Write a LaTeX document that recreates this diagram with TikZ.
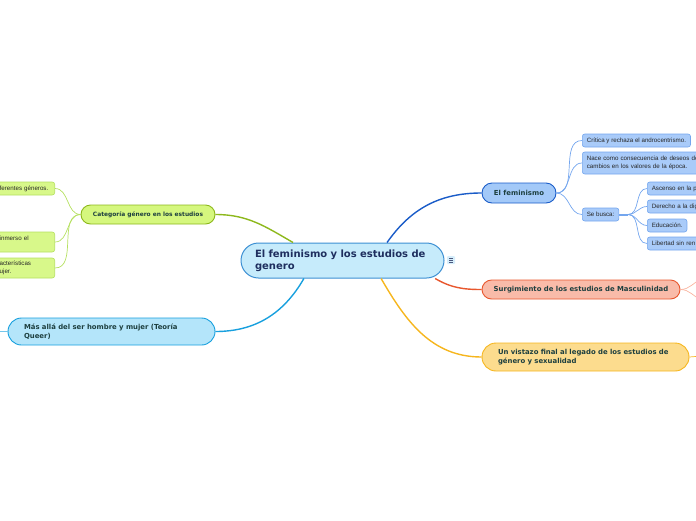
\documentclass[tikz,border=0pt]{standalone}
\usepackage{fontspec}
\setmainfont{Liberation Sans}
\newfontfamily\verd{DejaVu Sans}
\definecolor{rootfill}{HTML}{C6EBFB}
\definecolor{rootline}{HTML}{3C8FD3}
\definecolor{roottext}{HTML}{1E2E5E}
\definecolor{topictext}{HTML}{1D3F3F}
\definecolor{femfill}{HTML}{A3C9F8}
\definecolor{femline}{HTML}{1A5CC8}
\definecolor{leaffill}{HTML}{A9CBF9}
\definecolor{leafline}{HTML}{74A6EE}
\definecolor{catfill}{HTML}{D5F77E}
\definecolor{catline}{HTML}{8DB81C}
\definecolor{cleaffill}{HTML}{D8F88A}
\definecolor{cleafline}{HTML}{B5E060}
\definecolor{queerfill}{HTML}{B4E5FA}
\definecolor{queerline}{HTML}{18A0DE}
\definecolor{mascfill}{HTML}{F9BBA9}
\definecolor{mascline}{HTML}{E8572E}
\definecolor{masclight}{HTML}{F9B4A0}
\definecolor{vistfill}{HTML}{FCDC8E}
\definecolor{vistline}{HTML}{F6B61E}
\definecolor{iconfill}{HTML}{D6EEFB}

\begin{document}
\begin{tikzpicture}[x=1pt, y=-1pt,
  root/.style={draw=rootline, fill=rootfill, line width=1pt, rounded corners=17.5pt, minimum height=35pt, text width=175pt, inner xsep=14pt, align=left, text=roottext, font=\verd\bfseries\fontsize{10}{12}\selectfont},
  topic/.style={line width=0.9pt, inner sep=0pt, text=topictext, font=\verd\bfseries\fontsize{6.9}{9.5}\selectfont},
  leaf/.style={draw=leafline, fill=leaffill, line width=0.6pt, rounded corners=2.5pt, inner xsep=4.5pt, inner ysep=0pt, minimum height=13pt, anchor=west, align=left, text=black!85, font=\fontsize{6.2}{8}\selectfont},
  cleaf/.style={leaf, draw=cleafline, fill=cleaffill, anchor=east, text width=51pt, inner xsep=4pt},
  branch/.style={line width=1.4pt},
  twig/.style={line width=0.7pt}
]
\useasboundingbox (0,0) rectangle (696,520);
\clip (0,0) rectangle (696,520);

\node[root] (root) at (342.5,260.5) {El feminismo y los estudios de\\genero};
\node[fill=iconfill, rounded corners=1pt, minimum size=8pt, inner sep=0pt] (notes) at (451,260) {};
\draw[roottext!80, line width=0.6pt] ([xshift=-2pt]notes.center) -- ++(4,0)
  ([xshift=-2pt,yshift=2pt]notes.center) -- ++(4,0) ([xshift=-2pt,yshift=-2pt]notes.center) -- ++(4,0);

\node[topic, draw=femline, fill=femfill, rounded corners=10pt, minimum width=74pt, minimum height=20pt] (fem) at (519,193) {El feminismo};
\node[leaf] (crit) at (582,140.5) {Crítica y rechaza el androcentrismo.};
\node[leaf, minimum height=22pt, text width=116pt] (nace) at (582,163) {Nace como consecuencia de deseos de\\cambios en los valores de la época.};
\node[leaf] (busca) at (582,214.5) {Se busca:};
\node[leaf, text width=52pt] (asc) at (647,188.5) {Ascenso en la p};
\node[leaf, text width=52pt] (der) at (647,206.5) {Derecho a la dig};
\node[leaf] (edu) at (647,225.5) {Educación.};
\node[leaf, text width=52pt] (lib) at (647,243.5) {Libertad sin ren};

\node[topic, draw=mascline, fill=mascfill, rounded corners=9.5pt, minimum width=198pt, minimum height=19pt] (masc) at (581,289.5) {Surgimiento de los estudios de Masculinidad};
\node[topic, draw=vistline, fill=vistfill, rounded corners=14pt, minimum height=28pt, text width=175pt, inner xsep=16pt, align=left] (vist) at (585.5,357) {Un vistazo final al legado de los estudios de\\género y sexualidad};

\node[topic, draw=catline, fill=catfill, rounded corners=9.5pt, minimum width=134pt, minimum height=19pt, font=\verd\bfseries\fontsize{5.9}{8}\selectfont] (cat) at (148,214.5) {Categoría género en los estudios};
\node[cleaf] (gen) at (55,188.5) {ferentes géneros.};
\node[cleaf, minimum height=20pt] (inm) at (55,242) {inmerso el\\\mbox{}};
\node[cleaf, minimum height=20pt] (car) at (55,268) {acterísticas\\ujer.};

\node[topic, draw=queerline, fill=queerfill, rounded corners=13.5pt, minimum height=27pt, text width=175pt, inner xsep=16pt, align=left] (queer) at (111.5,331.5) {Más allá del ser hombre y mujer (Teoría\\Queer)};

\coordinate (busjoint) at (628,214.5);
\coordinate (mascup) at (702,279);
\coordinate (mascdown) at (702,300);
\coordinate (vistend) at (702,356);
\coordinate (queerend) at (-4,331.5);

\draw[branch, femline] (root.22) to[out=55, in=180] (fem.west);
\draw[branch, mascline] (root.-11) to[out=-30, in=180] (masc.west);
\draw[branch, vistline] (root.-25) to[out=-60, in=180] (vist.west);
\draw[branch, catline] (root.160) to[out=150, in=0] (cat.east);
\draw[branch, queerline] (root.205) to[out=-120, in=0] (queer.east);

\draw[twig, leafline] (fem.east) to[out=0, in=180] (crit.west);
\draw[twig, leafline] (fem.east) to[out=0, in=180] (nace.west);
\draw[twig, leafline] (fem.east) to[out=0, in=180] (busca.west);
\draw[leafline, line width=2pt] (busca.east) -- (busjoint);
\draw[twig, leafline] (busjoint) to[out=0, in=180] (asc.west);
\draw[twig, leafline] (busjoint) to[out=0, in=180] (der.west);
\draw[twig, leafline] (busjoint) to[out=0, in=180] (edu.west);
\draw[twig, leafline] (busjoint) to[out=0, in=180] (lib.west);

\draw[twig, cleafline] (cat.west) to[out=180, in=0] (gen.east);
\draw[twig, cleafline] (cat.west) to[out=180, in=0] (inm.east);
\draw[twig, cleafline] (cat.west) to[out=180, in=0] (car.east);

\draw[twig, masclight] (masc.east) to[out=0, in=200] (mascup);
\draw[twig, masclight] (masc.east) to[out=0, in=160] (mascdown);
\draw[twig, vistline] (vist.east) -- (vistend);
\draw[twig, queerline!60] (queer.west) -- (queerend);
\end{tikzpicture}
\end{document}
